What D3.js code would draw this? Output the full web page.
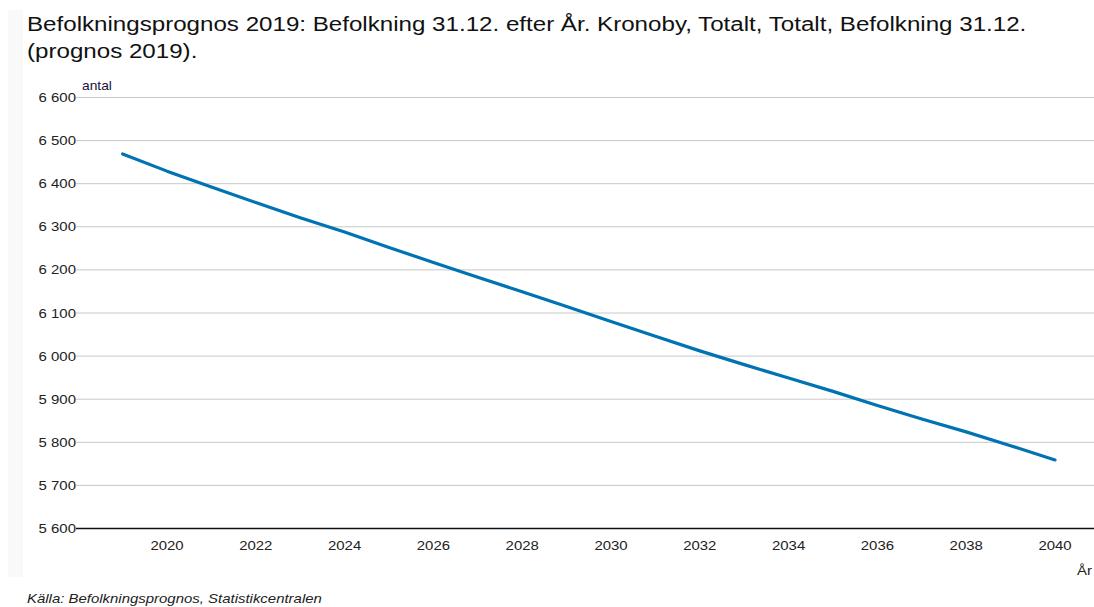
<!DOCTYPE html>
<html>
<head>
<meta charset="utf-8">
<script src="https://cdn.jsdelivr.net/npm/d3@7"></script>
<style>
  body { margin: 0; background: #fff; }
  svg { display: block; font-family: "Liberation Sans", Arial, sans-serif; }
</style>
</head>
<body>
<div id="chart"></div>
<script>
// data
var years = [2019, 2020, 2021, 2022, 2023, 2024, 2025, 2026, 2027, 2028, 2029,
             2030, 2031, 2032, 2033, 2034, 2035, 2036, 2037, 2038, 2039, 2040];
var population = [6468, 6428, 6391, 6355, 6320, 6287, 6251, 6216, 6182, 6148, 6114,
                  6079, 6045, 6011, 5979, 5948, 5917, 5884, 5853, 5823, 5791, 5758];
var yTicks = [5600, 5700, 5800, 5900, 6000, 6100, 6200, 6300, 6400, 6500, 6600];
var xTicks = [2020, 2022, 2024, 2026, 2028, 2030, 2032, 2034, 2036, 2038, 2040];

var titleLines = [
  "Befolkningsprognos 2019: Befolkning 31.12. efter År. Kronoby, Totalt, Totalt, Befolkning 31.12.",
  "(prognos 2019)."
];
var source = "Källa: Befolkningsprognos, Statistikcentralen";

var W = 1094, H = 607;
var plotLeft = 80, plotRight = 1094;
var stretch = 1.15; // text in the original is a bit wider than the font

var svg = d3.select("#chart").append("svg")
  .attr("width", W)
  .attr("height", H);

// faint side panel on the left edge
svg.append("rect")
  .attr("x", 8).attr("y", 10)
  .attr("width", 15).attr("height", 567)
  .attr("fill", "#f9f9f9");

var x = d3.scaleLinear().domain([2020, 2040]).range([167, 1055]);
var y = d3.scaleLinear().domain([5600, 6600]).range([528, 97]);

var fmt = function(v) { return d3.format(",")(v).replace(",", " "); };

function place(px, py) {
  return "translate(" + px + "," + py + ") scale(" + stretch + ",1)";
}

// title
titleLines.forEach(function(t, i) {
  svg.append("text")
    .attr("transform", place(27, 31 + i * 27))
    .style("font-size", "21px")
    .style("fill", "#111")
    .text(t);
});

// gridlines
svg.append("g")
  .selectAll("line")
  .data(yTicks.filter(function(d) { return d != 5600; }))
  .enter().append("line")
  .attr("x1", plotLeft - 4).attr("x2", plotRight)
  .attr("y1", function(d) { return y(d) + 0.5; })
  .attr("y2", function(d) { return y(d) + 0.5; })
  .attr("stroke", "#c8c8c8")
  .attr("stroke-width", 1);

// y axis labels
svg.append("g")
  .selectAll("text")
  .data(yTicks)
  .enter().append("text")
  .attr("transform", function(d) { return place(76, y(d) + 5); })
  .attr("text-anchor", "end")
  .style("font-size", "13px")
  .style("fill", "#222")
  .text(fmt);

svg.append("text")
  .attr("transform", place(82, 90))
  .style("font-size", "12px")
  .style("fill", "#1a1240")
  .text("antal");

// x axis baseline
svg.append("line")
  .attr("x1", plotLeft - 4).attr("x2", plotRight)
  .attr("y1", y(5600) + 0.5).attr("y2", y(5600) + 0.5)
  .attr("stroke", "#111")
  .attr("stroke-width", 1.5);

// x axis labels
svg.append("g")
  .selectAll("text")
  .data(xTicks)
  .enter().append("text")
  .attr("transform", function(d) { return place(x(d), 550); })
  .attr("text-anchor", "middle")
  .style("font-size", "13px")
  .style("fill", "#222")
  .text(function(d) { return d; });

svg.append("text")
  .attr("transform", place(1092, 575))
  .attr("text-anchor", "end")
  .style("font-size", "13px")
  .style("fill", "#222")
  .text("År");

// the line
var line = d3.line()
  .x(function(d, i) { return x(years[i]); })
  .y(function(d) { return y(d); });

svg.append("path")
  .datum(population)
  .attr("d", line)
  .attr("fill", "none")
  .attr("stroke", "#0073b3")
  .attr("stroke-width", 3.2)
  .attr("stroke-linejoin", "round")
  .attr("stroke-linecap", "round");

// source
svg.append("text")
  .attr("transform", place(27, 603))
  .style("font-size", "13px")
  .style("font-style", "italic")
  .style("fill", "#222")
  .text(source);
</script>
</body>
</html>
